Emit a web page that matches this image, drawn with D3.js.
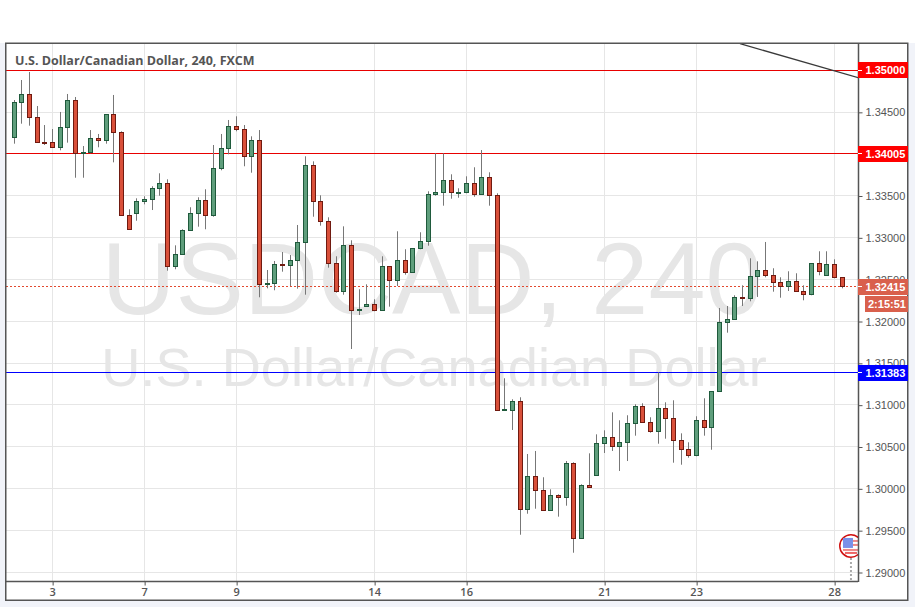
<!DOCTYPE html>
<html>
<head>
<meta charset="utf-8">
<script src="https://cdn.jsdelivr.net/npm/d3@7"></script>
<style>
  html, body { margin: 0; padding: 0; background: #f1f3f9; }
  svg { display: block; }
</style>
</head>
<body>
<div id="chart"></div>
<script>
// USD/CAD 240 candlestick chart

// --- Data ---
const opens = [
  1.34199,1.34618,1.34713,1.34438,1.34139,1.34139,1.34080,1.34319,1.34641,1.34008,
  1.34020,1.34187,1.34163,1.34474,1.34259,1.33267,1.33291,1.33434,1.33458,1.33590,
  1.33649,1.32657,1.32801,1.33088,1.33291,1.33446,1.33267,1.33829,1.34068,1.34331,
  1.34295,1.33972,1.34163,1.32442,1.32454,1.32681,1.32669,1.32729,1.32944,1.33865,
  1.33434,1.33195,1.32693,1.32354,1.32908,1.32132,1.32179,1.32203,1.32132,1.32657,
  1.32490,1.32729,1.32586,1.32873,1.32956,1.33518,1.33542,1.33685,1.33535,1.33542,
  1.33649,1.33518,1.33721,1.33506,1.30932,1.30936,1.31044,1.29753,1.30147,1.29980,
  1.29741,1.29920,1.29896,1.30303,1.29406,1.30040,1.30159,1.30542,1.30614,1.30506,
  1.30554,1.30781,1.30984,1.30793,1.30685,1.30960,1.30841,1.30578,1.30470,1.30398,
  1.30817,1.30733,1.31163,1.31988,1.32016,1.32287,1.32275,1.32538,1.32610,1.32550,
  1.32466,1.32418,1.32478,1.32359,1.32323,1.32693,1.32550,1.32681,1.32526
];
const highs = [
  1.34645,1.34884,1.34980,1.34573,1.34346,1.34298,1.34502,1.34717,1.34681,1.34095,
  1.34286,1.34239,1.34474,1.34705,1.34271,1.33339,1.33470,1.33494,1.33614,1.33769,
  1.33697,1.32908,1.33100,1.33363,1.33482,1.33578,1.34107,1.34239,1.34406,1.34450,
  1.34346,1.34211,1.34286,1.32613,1.32721,1.32828,1.32792,1.33151,1.33972,1.33912,
  1.33506,1.33243,1.32777,1.33135,1.32968,1.32383,1.32442,1.32263,1.32777,1.32657,
  1.33076,1.32861,1.32873,1.33064,1.33554,1.34008,1.34008,1.33757,1.33590,1.33733,
  1.33841,1.34047,1.33781,1.33530,1.31319,1.31068,1.31092,1.30414,1.30450,1.30136,
  1.29992,1.29932,1.30330,1.30315,1.30052,1.30422,1.30649,1.30697,1.30912,1.30817,
  1.30877,1.31008,1.31020,1.30853,1.31390,1.31032,1.31056,1.30661,1.30554,1.30865,
  1.31080,1.31163,1.32159,1.32183,1.32311,1.32430,1.32753,1.32717,1.32948,1.32634,
  1.32526,1.32598,1.32574,1.32430,1.32693,1.32837,1.32837,1.32741,1.32526
];
const lows = [
  1.34123,1.34362,1.34338,1.34135,1.34107,1.34080,1.34044,1.34135,1.33716,1.33716,
  1.34008,1.34080,1.34123,1.33900,1.33267,1.33100,1.33202,1.33398,1.33330,1.33501,
  1.32605,1.32622,1.32801,1.33088,1.33131,1.33100,1.33250,1.33805,1.33996,1.34271,
  1.33853,1.33776,1.32287,1.32394,1.32371,1.32593,1.32422,1.32390,1.32318,1.33250,
  1.33143,1.32641,1.32342,1.32318,1.31669,1.32075,1.32179,1.32120,1.32132,1.32175,
  1.32422,1.32557,1.32586,1.32861,1.32904,1.33501,1.33382,1.33465,1.33477,1.33530,
  1.33489,1.33518,1.33382,1.30936,1.30932,1.30701,1.29449,1.29700,1.29760,1.29741,
  1.29741,1.29665,1.29796,1.29234,1.29406,1.30016,1.30159,1.30426,1.30450,1.30211,
  1.30330,1.30633,1.30793,1.30669,1.30537,1.30597,1.30310,1.30286,1.30370,1.30387,
  1.30633,1.30465,1.31163,1.31864,1.32016,1.32183,1.32239,1.32291,1.32526,1.32354,
  1.32282,1.32362,1.32359,1.32251,1.32311,1.32550,1.32550,1.32514,1.32394
];
const closes = [
  1.34618,1.34713,1.34438,1.34139,1.34135,1.34080,1.34319,1.34641,1.34008,1.34020,
  1.34187,1.34163,1.34474,1.34259,1.33267,1.33100,1.33434,1.33458,1.33590,1.33649,
  1.32657,1.32801,1.33088,1.33291,1.33446,1.33267,1.33829,1.34068,1.34331,1.34295,
  1.33972,1.34163,1.32442,1.32454,1.32681,1.32669,1.32729,1.32944,1.33865,1.33434,
  1.33195,1.32693,1.32354,1.32908,1.32132,1.32143,1.32203,1.32132,1.32657,1.32490,
  1.32729,1.32586,1.32873,1.32956,1.33518,1.33542,1.33685,1.33542,1.33545,1.33649,
  1.33518,1.33721,1.33506,1.30936,1.30940,1.31044,1.29753,1.30147,1.29980,1.29741,
  1.29920,1.29896,1.30303,1.29406,1.30040,1.30016,1.30542,1.30614,1.30506,1.30554,
  1.30781,1.30984,1.30793,1.30685,1.30960,1.30841,1.30578,1.30470,1.30398,1.30817,
  1.30733,1.31163,1.31988,1.32016,1.32287,1.32275,1.32538,1.32610,1.32550,1.32466,
  1.32418,1.32478,1.32359,1.32323,1.32693,1.32598,1.32681,1.32526,1.32415
];

const priceTicks = [1.29, 1.295, 1.30, 1.305, 1.31, 1.315, 1.32, 1.325, 1.33, 1.335, 1.34, 1.345];
const dateBars = [5, 17, 29, 47, 59, 77, 89, 107];
const dateLabels = ["3", "7", "9", "14", "16", "21", "23", "28"];

const redLevels = [1.35, 1.34005];
const blueLevel = 1.31383;
const lastPrice = 1.32415;
const countdown = "2:15:51";
const trendBars = [94.66, 110.1];
const trendPrices = [1.35318, 1.34911];
const eventBar = 109.13;
const eventPrice = 1.29315;

const titleText = "U.S. Dollar/Canadian Dollar, 240, FXCM";
const markTop = "USDCAD, 240";
const markBottom = "U.S. Dollar/Canadian Dollar";

// --- Layout ---
const W = 915, H = 607;
const frame = { left: 6, top: 43, right: 908, bottom: 600 };
const plot = { left: 6, top: 43, right: 858, bottom: 581 };
const crisp = v => Math.floor(v) + 0.5;
const sansAxis = "'Liberation Sans', Arial, sans-serif";
const sansTitle = "'Open Sans', 'Noto Sans', sans-serif";

const svg = d3.select("#chart").append("svg")
  .attr("width", W)
  .attr("height", H);

// white strip above the chart and the chart panel
svg.append("rect").attr("width", W).attr("height", frame.top).attr("fill", "#fff");
svg.append("rect")
  .attr("x", frame.left).attr("y", frame.top)
  .attr("width", frame.right - frame.left).attr("height", frame.bottom - frame.top)
  .attr("fill", "#fff");

svg.append("clipPath").attr("id", "plot-clip").append("rect")
  .attr("x", plot.left).attr("y", plot.top)
  .attr("width", plot.right - plot.left).attr("height", plot.bottom - plot.top);

// --- Scales ---
const x = d3.scaleLinear().domain([0, 108]).range([14.3, 842.3]);
const y = d3.scaleLinear().domain([1.35, 1.29]).range([70.3, 572.3]);

const g = svg.append("g").attr("clip-path", "url(#plot-clip)");

// --- Grid ---
g.selectAll(".gy").data(priceTicks).enter().append("line")
  .attr("x1", plot.left).attr("x2", plot.right)
  .attr("y1", d => crisp(y(d))).attr("y2", d => crisp(y(d)))
  .attr("stroke", "#e6e6e6");
g.selectAll(".gx").data(dateBars).enter().append("line")
  .attr("x1", d => crisp(x(d))).attr("x2", d => crisp(x(d)))
  .attr("y1", plot.top).attr("y2", plot.bottom)
  .attr("stroke", "#e6e6e6");

// --- Watermark ---
g.append("text")
  .attr("x", 432).attr("y", 314)
  .attr("text-anchor", "middle")
  .attr("font-family", sansAxis)
  .attr("font-size", 102.5)
  .attr("fill", "#e6e6e6")
  .text(markTop);
g.append("text")
  .attr("x", 434).attr("y", 386)
  .attr("text-anchor", "middle")
  .attr("font-family", sansAxis)
  .attr("font-size", 54.2)
  .attr("fill", "#e6e6e6")
  .text(markBottom);

// --- Levels ---
redLevels.forEach(p => {
  g.append("line")
    .attr("x1", plot.left).attr("x2", plot.right)
    .attr("y1", crisp(y(p))).attr("y2", crisp(y(p)))
    .attr("stroke", "#e80000").attr("stroke-width", 1);
});
g.append("line")
  .attr("x1", plot.left).attr("x2", plot.right)
  .attr("y1", crisp(y(blueLevel))).attr("y2", crisp(y(blueLevel)))
  .attr("stroke", "#0000ff").attr("stroke-width", 1);
g.append("line")
  .attr("x1", plot.left).attr("x2", plot.right)
  .attr("y1", crisp(y(lastPrice))).attr("y2", crisp(y(lastPrice)))
  .attr("stroke", "#e2492f").attr("stroke-dasharray", "2,2");

// trend line
g.append("line")
  .attr("x1", x(trendBars[0])).attr("y1", y(trendPrices[0]))
  .attr("x2", x(trendBars[1])).attr("y2", y(trendPrices[1]))
  .attr("stroke", "#3a3a3a").attr("stroke-width", 1.3);

// --- Candles ---
const bars = d3.range(opens.length);
g.selectAll(".wick").data(bars).enter().append("line")
  .attr("class", "wick")
  .attr("x1", i => crisp(x(i))).attr("x2", i => crisp(x(i)))
  .attr("y1", i => y(highs[i])).attr("y2", i => y(lows[i]))
  .attr("stroke", "#777");
g.selectAll(".body").data(bars).enter().append("rect")
  .attr("class", "body")
  .attr("x", i => crisp(x(i)) - 2)
  .attr("y", i => crisp(y(Math.max(opens[i], closes[i]))))
  .attr("width", 4)
  .attr("height", i => Math.max(crisp(y(Math.min(opens[i], closes[i]))) - crisp(y(Math.max(opens[i], closes[i]))), 1))
  .attr("fill", i => closes[i] >= opens[i] ? "#5f9e7c" : "#d9503a")
  .attr("stroke", i => closes[i] >= opens[i] ? "#1f5a3c" : "#701a10");

// --- Event marker ---
const ev = g.append("g").attr("transform", `translate(${x(eventBar)},${y(eventPrice)})`);
ev.append("line").attr("y1", 12).attr("y2", 35)
  .attr("stroke", "#aaa").attr("stroke-width", 2).attr("stroke-dasharray", "2,2");
ev.append("circle").attr("r", 11.2)
  .attr("fill", "#fff").attr("stroke", "#d01010").attr("stroke-width", 1.5);
ev.append("rect").attr("x", 2).attr("y", -6).attr("width", 5).attr("height", 2).attr("fill", "#e88");
ev.append("rect").attr("x", 2).attr("y", -2).attr("width", 5).attr("height", 2).attr("fill", "#e88");
ev.append("rect").attr("x", -8).attr("y", 3).attr("width", 15).attr("height", 2).attr("fill", "#e88");
ev.append("rect").attr("x", -6).attr("y", 6).attr("width", 12).attr("height", 2).attr("fill", "#e66");
ev.append("rect").attr("x", -8).attr("y", -8).attr("width", 10).attr("height", 10).attr("fill", "#7a90e8");

// --- Axes ---
const yAxis = d3.axisRight(y)
  .tickValues(priceTicks)
  .tickFormat(d3.format(".5f"))
  .tickSize(4)
  .tickPadding(3);
const gY = svg.append("g")
  .attr("transform", `translate(${plot.right + 0.5},0.2)`)
  .call(yAxis);
gY.select(".domain").remove();
gY.selectAll("line").attr("stroke", "#555");
gY.selectAll("text")
  .attr("font-family", sansAxis).attr("font-size", 11).attr("fill", "#555");

const xAxis = d3.axisBottom(x)
  .tickValues(dateBars)
  .tickFormat((d, i) => dateLabels[i])
  .tickSize(4)
  .tickPadding(3);
const gX = svg.append("g")
  .attr("transform", `translate(0,${plot.bottom + 0.5})`)
  .call(xAxis);
gX.select(".domain").remove();
gX.selectAll("line").attr("stroke", "#555");
gX.selectAll("text")
  .attr("x", -0.5)
  .attr("font-family", sansTitle).attr("font-size", 11).attr("font-weight", 600).attr("fill", "#555");

// --- Frame ---
svg.append("rect")
  .attr("x", frame.left - 0.25).attr("y", frame.top + 0.25)
  .attr("width", frame.right - frame.left).attr("height", frame.bottom - frame.top)
  .attr("fill", "none").attr("stroke", "#555").attr("stroke-width", 1.5);
svg.append("line")
  .attr("x1", plot.right + 0.5).attr("x2", plot.right + 0.5)
  .attr("y1", plot.top).attr("y2", plot.bottom + 1)
  .attr("stroke", "#555").attr("stroke-width", 1.5);
svg.append("line")
  .attr("x1", plot.left).attr("x2", plot.right)
  .attr("y1", plot.bottom + 0.5).attr("y2", plot.bottom + 0.5)
  .attr("stroke", "#555").attr("stroke-width", 1.5);

// --- Price tags ---
function priceTag(p, color, label) {
  const cy = y(p);
  svg.append("rect")
    .attr("x", plot.right).attr("y", Math.round(cy) - 8)
    .attr("width", frame.right - plot.right).attr("height", 16)
    .attr("fill", color);
  svg.append("line")
    .attr("x1", plot.right).attr("x2", plot.right + 4)
    .attr("y1", crisp(cy)).attr("y2", crisp(cy))
    .attr("stroke", "#fff");
  svg.append("text")
    .attr("x", plot.right + 7.5).attr("y", Math.round(cy) + 4)
    .attr("font-family", sansAxis).attr("font-size", 11).attr("font-weight", 700)
    .attr("fill", "#fff")
    .text(label);
}
redLevels.forEach(p => priceTag(p, "#ff0000", p.toFixed(5)));
priceTag(blueLevel, "#0000ff", blueLevel.toFixed(5));
priceTag(lastPrice, "#d9604c", lastPrice.toFixed(5));

svg.append("rect")
  .attr("x", 865).attr("y", Math.round(y(lastPrice)) + 9)
  .attr("width", frame.right - 865).attr("height", 16)
  .attr("fill", "#d9604c");
svg.append("text")
  .attr("x", 868).attr("y", Math.round(y(lastPrice)) + 21)
  .attr("font-family", sansAxis).attr("font-size", 11).attr("font-weight", 700)
  .attr("fill", "#fff")
  .text(countdown);

// --- Title ---
svg.append("text")
  .attr("x", 15).attr("y", 65)
  .attr("font-family", sansTitle).attr("font-size", 12.5).attr("font-weight", 700)
  .attr("fill", "#555")
  .text(titleText);
</script>
</body>
</html>
